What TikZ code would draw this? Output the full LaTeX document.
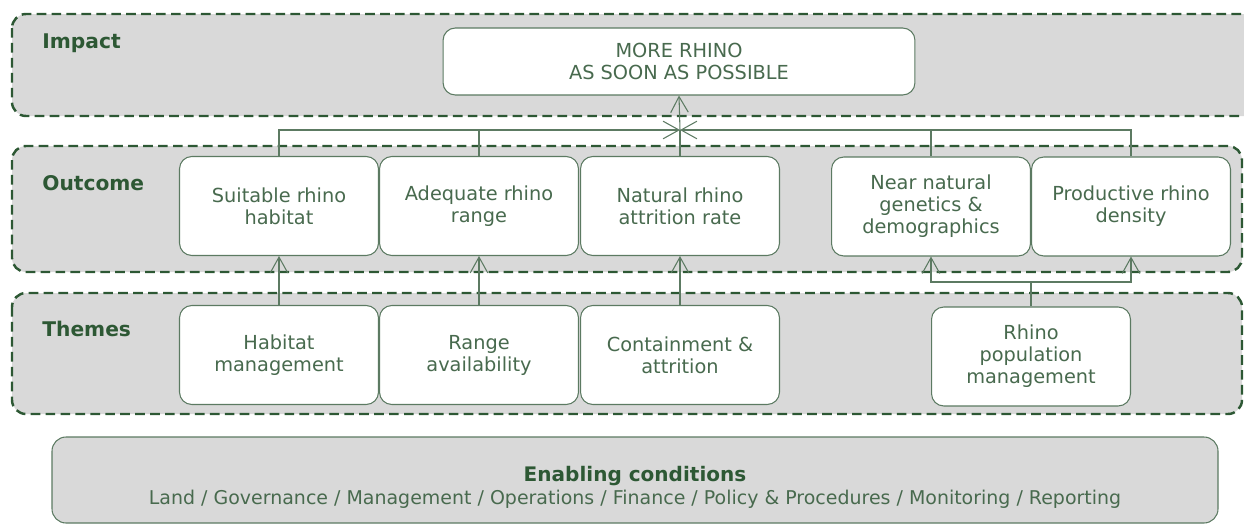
\documentclass[tikz,border=0pt]{standalone}
\usepackage{fontspec}
\setmainfont{DejaVu Sans}
\usetikzlibrary{arrows.meta}
\definecolor{rhgreen}{RGB}{45,88,52}
\definecolor{rhtext}{RGB}{72,106,78}
\definecolor{rhline}{RGB}{92,122,98}
\definecolor{rhgray}{RGB}{217,217,217}
\tikzset{%
  band/.style={draw=rhgreen,fill=rhgray,line width=1.4pt,dash pattern=on 5.5pt off 3pt,rounded corners=8pt},
  tbox/.style={draw=rhline,fill=white,rounded corners=7pt,line width=0.6pt,align=center,text=rhtext,
    minimum width=3.98cm,minimum height=1.98cm,inner sep=2pt,font=\fontsize{11}{12.5}\selectfont},
  lbl/.style={anchor=west,text=rhgreen,inner sep=0pt,font=\fontsize{11.5}{14}\selectfont\bfseries},
  link/.style={draw=rhline,line width=0.6pt},
  uparrow/.style={link,-{Straight Barb[length=9pt,width=10pt]}}
}

\begin{document}
\begin{tikzpicture}[x=0.02cm,y=-0.02cm]
  \useasboundingbox (0,0) rectangle (1244,531);
  % bands
  \draw[band] (12,14) rectangle (1265,116);
  \draw[band] (12,146) rectangle (1242,272);
  \draw[band] (12,293) rectangle (1242,414);
  \draw[draw=rhline,fill=rhgray,line width=0.6pt,rounded corners=8pt] (52,437) rectangle (1218,523);
  \node[lbl] (l_impact) at (42,43) {Impact};
  \node[lbl] (l_outcome) at (42,183) {Outcome};
  \node[lbl] (l_themes) at (42,329) {Themes};
  % impact
  \node[tbox,minimum width=9.44cm,minimum height=1.34cm] (impact) at (679,61.5) {MORE RHINO\\AS SOON AS POSSIBLE};
  % outcomes
  \node[tbox] (suit) at (279,206) {Suitable rhino\\habitat};
  \node[tbox] (adeq) at (479,206) {Adequate rhino\\range};
  \node[tbox] (natu) at (680,206) {Natural rhino\\attrition rate};
  \node[tbox] (near) at (931,206.5) {Near natural\\genetics \&\\demographics};
  \node[tbox] (prod) at (1131,206.5) {Productive rhino\\density};
  % themes
  \node[tbox] (habm) at (279,355) {Habitat\\management};
  \node[tbox] (rnga) at (479,355) {Range\\availability};
  \node[tbox] (cont) at (680,355) {Containment \&\\attrition};
  \node[tbox] (popm) at (1031,356.5) {Rhino\\population\\management};
  % enabling conditions
  \node[text=rhtext,align=center,font=\fontsize{10.8}{13}\selectfont] (enab) at (635,487)
    {\textcolor{rhgreen}{\fontsize{11.4}{13}\selectfont\bfseries Enabling conditions}\\Land / Governance / Management / Operations / Finance / Policy \& Procedures / Monitoring / Reporting};
  % outcomes to impact
  \coordinate (junc) at (680,130);
  \draw[uparrow] (suit.north) |- (junc);
  \draw[link] (adeq.north) -- (adeq.north |- junc);
  \draw[link] (natu.north) -- (junc);
  \draw[link] (near.north) -- (near.north |- junc);
  \draw[uparrow] (prod.north) |- (junc);
  \draw[uparrow] (junc) -- (impact.south);
  % themes to outcomes
  \draw[uparrow] (habm) -- (suit);
  \draw[uparrow] (rnga) -- (adeq);
  \draw[uparrow] (cont) -- (natu);
  \coordinate (split) at (1031,282);
  \draw[link] (popm.north) -- (split);
  \draw[uparrow] (split) -| (near.south);
  \draw[uparrow] (split) -| (prod.south);
\end{tikzpicture}
\end{document}
